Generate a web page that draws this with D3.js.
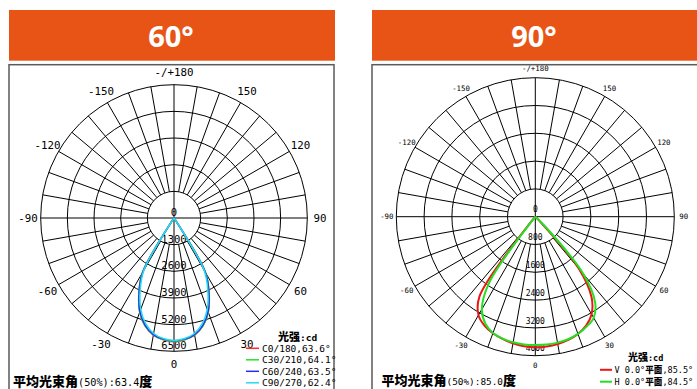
<!DOCTYPE html>
<html><head><meta charset="utf-8">
<script src="https://cdn.jsdelivr.net/npm/d3@7"></script>
<style>
body{margin:0;background:#fff;}
svg{display:block;}
</style></head>
<body>
<svg id="chart" width="697" height="389"></svg>
<script>
// ---------------- DATA ----------------
const panelTitles = ["60°", "90°"];

// shared angular ticks (0 = straight down, +90 = right)
const angleTicks = [-150, -120, -90, -60, -30, 0, 30, 60, 90, 120, 150, 180];
const angleTickLabels = ["-150", "-120", "-90", "-60", "-30", "0", "30", "60", "90", "120", "150", "-/+180"];

// left panel (60°): symmetric C-planes, half profile 0..90°
const leftAngles = [0, 5, 10, 15, 20, 25, 30, 35, 40, 45, 50, 55, 60, 65, 70, 75, 80, 85, 90];
const c0_180  = [6030, 5960, 5800, 5450, 4880, 4030, 3060, 120, 0, 0, 0, 0, 0, 0, 0, 0, 0, 0, 0];
const c30_210 = [6010, 5950, 5790, 5450, 4890, 4050, 3080, 110, 0, 0, 0, 0, 0, 0, 0, 0, 0, 0, 0];
const c60_240 = [5990, 5930, 5770, 5420, 4860, 4020, 3040, 100, 0, 0, 0, 0, 0, 0, 0, 0, 0, 0, 0];
const c90_270 = [5970, 5900, 5720, 5330, 4740, 3900, 2940, 90, 0, 0, 0, 0, 0, 0, 0, 0, 0, 0, 0];
const leftSeriesNames = ["C0/180,63.6°", "C30/210,64.1°", "C60/240,63.5°", "C90/270,62.4°"];
const leftRadialTicks = [0, 1300, 2600, 3900, 5200, 6500];
const leftAverage = "63.4";

// right panel (90°): full profile -90..90°
const rightAngles = [-90, -85, -80, -75, -70, -65, -60, -55, -50, -45, -40, -35, -30, -25, -20, -15, -10, -5, 0,
                     5, 10, 15, 20, 25, 30, 35, 40, 45, 50, 55, 60, 65, 70, 75, 80, 85, 90];
const vPlane = [0, 0, 0, 0, 0, 0, 0, 0, 0, 0, 120, 2800, 3270, 3460, 3570, 3640, 3700, 3740, 3760,
                3750, 3720, 3670, 3590, 3460, 3240, 2820, 1950, 150, 0, 0, 0, 0, 0, 0, 0, 0, 0];
const hPlane = [0, 0, 0, 0, 0, 0, 0, 0, 0, 0, 100, 2300, 3080, 3400, 3560, 3630, 3670, 3690, 3695,
                3695, 3680, 3650, 3590, 3490, 3360, 3000, 2150, 450, 0, 0, 0, 0, 0, 0, 0, 0, 0];
const rightSeriesPrefix = ["V 0.0°", "H 0.0°"];
const rightSeriesAngle = [",85.5°", ",84.5°"];
const rightRadialTicks = [0, 800, 1600, 2400, 3200, 4000];
const rightAverage = "85.0";

// ---------------- STYLE / LAYOUT ----------------
const ORANGE = "#e85415";
const MONO = "'DejaVu Sans Mono', 'Liberation Mono', monospace";
const CJK = "'Noto Sans CJK SC', 'Noto Sans', sans-serif";
const leftColors = ["#ff2a2a", "#22e622", "#2a2aff", "#22dcf0"];
const rightColors = ["#ee1515", "#22e022"];

const svg = d3.select("#chart");
svg.append("rect").attr("width", 697).attr("height", 389).attr("fill", "#fff");

const rad = d => d * Math.PI / 180;

function mirror(angles, values) {
  const pts = [];
  for (let i = angles.length - 1; i > 0; i--) pts.push([-angles[i], values[i]]);
  for (let i = 0; i < angles.length; i++) pts.push([angles[i], values[i]]);
  return pts;
}

function drawPanel(cfg) {
  const g = svg.append("g");
  // header
  g.append("rect").attr("x", cfg.hx).attr("y", 10).attr("width", cfg.hw).attr("height", 50.7).attr("fill", ORANGE);
  g.append("text").attr("x", cfg.titleX).attr("y", 47)
    .attr("text-anchor", "middle").attr("fill", "#fff")
    .style("font-family", "'Open Sans', 'Noto Sans', sans-serif").style("font-weight", 700).style("font-size", "29px")
    .text(cfg.title);
  // frame
  g.append("rect").attr("x", cfg.fx).attr("y", 64.7).attr("width", cfg.fw).attr("height", 360)
    .attr("fill", "none").attr("stroke", "#5a5a5a").attr("stroke-width", 1.5);

  const cx = cfg.cx, cy = cfg.cy;
  const r = d3.scaleLinear().domain([0, cfg.max]).range([0, cfg.R]);
  const pg = g.append("g").attr("transform", `translate(${cx},${cy})`);

  // circles
  pg.selectAll("circle.ring").data(cfg.ticks.slice(1)).join("circle")
    .attr("r", d => r(d)).attr("fill", "none").attr("stroke", "#000").attr("stroke-width", 1);
  // spokes every 10°
  const spokes = d3.range(-170, 181, 10).filter(a => a % 90 !== 0);
  const r0 = r(cfg.ticks[1]);
  pg.selectAll("line.spoke").data(spokes).join("line")
    .attr("x1", a => r0 * Math.sin(rad(a))).attr("y1", a => r0 * Math.cos(rad(a)))
    .attr("x2", a => cfg.R * Math.sin(rad(a))).attr("y2", a => cfg.R * Math.cos(rad(a)))
    .attr("stroke", "#000").attr("stroke-width", 1);
  // axes
  pg.append("line").attr("x1", 0).attr("x2", 0).attr("y1", -cfg.R).attr("y2", cfg.R).attr("stroke", "#000").attr("stroke-width", 1);
  pg.append("line").attr("y1", 0).attr("y2", 0).attr("x1", -cfg.R).attr("x2", cfg.R).attr("stroke", "#000").attr("stroke-width", 1);

  // angle labels
  pg.selectAll("text.ang").data(angleTicks).join("text")
    .attr("x", (a) => cfg.labR * Math.sin(rad(a)))
    .attr("y", (a) => cfg.labR * Math.cos(rad(a)))
    .attr("text-anchor", "middle").attr("dominant-baseline", "central")
    .style("font-family", MONO).style("font-size", cfg.angFont + "px").attr("fill", "#000")
    .text((a, i) => angleTickLabels[i]);

  // radial labels
  pg.selectAll("text.rad").data(cfg.ticks).join("text")
    .attr("x", 0).attr("y", d => r(d) - cfg.radOff)
    .attr("text-anchor", "middle")
    .style("font-family", MONO).style("font-size", cfg.radFont + "px").attr("fill", "#000")
    .text(d => d);

  // curves
  const line = d3.lineRadial()
    .angle(p => Math.PI - rad(p[0]))
    .radius(p => r(p[1]))
    .curve(d3.curveCatmullRom.alpha(0.5));
  cfg.series.forEach((s, i) => {
    pg.append("path").attr("d", line(s.pts)).attr("fill", "none")
      .attr("stroke", s.color).attr("stroke-width", cfg.curveW).attr("stroke-linejoin", "round");
  });

  // legend
  const lh = g.append("text").attr("x", cfg.legX).attr("y", cfg.legY).attr("fill", "#000");
  lh.append("tspan").style("font-family", CJK).style("font-weight", 900).style("font-size", cfg.legCjk + "px").text("光强");
  lh.append("tspan").style("font-family", MONO).style("font-weight", 700).style("font-size", cfg.legFont + "px").text(":cd");
  cfg.series.forEach((s, i) => {
    const y = cfg.rowY0 + i * cfg.rowDy;
    g.append("line").attr("x1", cfg.lineX1).attr("x2", cfg.lineX2).attr("y1", y).attr("y2", y)
      .attr("stroke", s.color).attr("stroke-width", cfg.legLineW);
    const t = g.append("text").attr("x", cfg.textX).attr("y", y + 3.3).attr("fill", "#000");
    s.label.forEach(part => {
      t.append("tspan").style("font-family", part.cjk ? CJK : MONO)
        .style("font-weight", part.cjk ? 900 : 400)
        .style("font-size", (part.cjk ? cfg.legCjkSmall : cfg.legFont) + "px").text(part.t);
    });
  });

  // average beam angle
  const bt = g.append("text").attr("x", cfg.avgX).attr("y", cfg.avgY).attr("fill", "#000");
  bt.append("tspan").style("font-family", CJK).style("font-weight", 900).style("font-size", "13px").text("平均光束角");
  bt.append("tspan").style("font-family", MONO).style("font-size", cfg.avgMono + "px").text("(50%):" + cfg.avg);
  bt.append("tspan").style("font-family", CJK).style("font-weight", 900).style("font-size", "13px").text("度");
}

const leftData = [c0_180, c30_210, c60_240, c90_270];
drawPanel({
  title: panelTitles[0], hx: 9, hw: 326, titleX: 171,
  fx: 9, fw: 325,
  cx: 174, cy: 218, R: 133.3, max: leftRadialTicks[leftRadialTicks.length - 1], ticks: leftRadialTicks,
  labR: 146, angFont: 10.8, radFont: 10.5, radOff: 2,
  curveW: 1.5,
  series: leftData.map((v, i) => ({ pts: mirror(leftAngles, v), color: leftColors[i], label: [{ t: leftSeriesNames[i] }] })),
  legX: 278, legY: 340.5, legCjk: 11, legFont: 9.5, legCjkSmall: 9.5,
  rowY0: 348.3, rowDy: 11.5, lineX1: 246, lineX2: 259, textX: 262, legLineW: 1.5,
  avgX: 13, avgY: 386, avgMono: 10.2, avg: leftAverage
});

const rightData = [vPlane, hPlane];
drawPanel({
  title: panelTitles[1], hx: 372, hw: 330, titleX: 534,
  fx: 372, fw: 340,
  cx: 535.3, cy: 216.7, R: 139, max: rightRadialTicks[rightRadialTicks.length - 1], ticks: rightRadialTicks,
  labR: 148.5, angFont: 7.4, radFont: 8, radOff: 4.3,
  curveW: 2,
  series: rightData.map((v, i) => ({
    pts: rightAngles.map((a, j) => [a, v[j]]), color: rightColors[i],
    label: [{ t: rightSeriesPrefix[i] }, { t: "平面", cjk: true }, { t: rightSeriesAngle[i] }]
  })),
  legX: 628, legY: 360.5, legCjk: 10, legFont: 8.5, legCjkSmall: 8.6,
  rowY0: 369.8, rowDy: 11.9, lineX1: 600, lineX2: 612, textX: 614.5, legLineW: 2,
  avgX: 381.5, avgY: 385, avgMono: 9.4, avg: rightAverage
});
</script>
</body></html>
